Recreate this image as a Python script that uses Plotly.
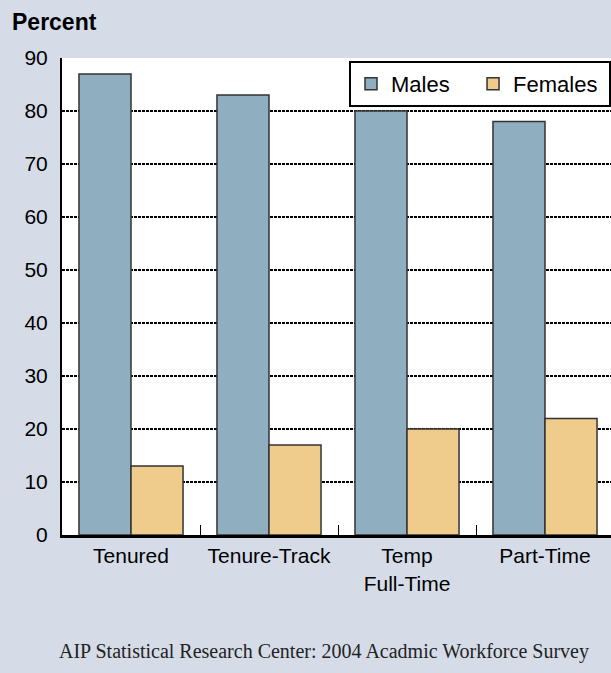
import plotly.graph_objects as go

categories = ["Tenured", "Tenure-Track", "Temp<br>Full-Time", "Part-Time"]
males = [87, 83, 80, 78]
females = [13, 17, 20, 22]
y_ticks = [0, 10, 20, 30, 40, 50, 60, 70, 80, 90]
series_names = ["Males\u00a0\u00a0\u00a0", "Females\u00a0"]

xpos = list(range(len(categories)))

# plot area in pixels
L, R, T, B = 62, 611, 58, 535
W, H = R - L, B - T


def px_x(px):
    return (px - L) / W


def px_y(py):
    return (B - py) / H


fig = go.Figure()
fig.add_trace(go.Bar(x=xpos, y=males, name=series_names[0],
                     marker=dict(color="#8faebf", line=dict(color="#333333", width=1.5))))
fig.add_trace(go.Bar(x=xpos, y=females, name=series_names[1],
                     marker=dict(color="#efcb8c", line=dict(color="#333333", width=1.5))))

fig.update_layout(
    width=611, height=673,
    paper_bgcolor="#d5dce8", plot_bgcolor="white",
    margin=dict(l=L, r=0, t=T, b=673 - B, pad=0, autoexpand=False),
    barmode="group", bargap=0.246, bargroupgap=0,
    font=dict(family="Liberation Sans, Arial, sans-serif", color="black", size=21),
    legend=dict(orientation="h", x=px_x(349), y=px_y(61), xanchor="left", yanchor="top",
                bgcolor="white", bordercolor="black", borderwidth=2,
                font=dict(size=22), traceorder="normal", itemwidth=30),
    xaxis=dict(range=[-0.5, 3.5 - (614 - R) / 138], tickvals=xpos, ticktext=categories,
               ticks="", showgrid=False, showline=True, linecolor="black", linewidth=3,
               minor=dict(tickvals=[0.5, 1.5, 2.5], ticks="inside", ticklen=10,
                          tickcolor="black", tickwidth=1, showgrid=False),
               zeroline=False, fixedrange=True),
    yaxis=dict(range=[0, 90], tickvals=y_ticks, showgrid=True, gridcolor="black",
               griddash="3px,1px", gridwidth=1.5, showline=True, linecolor="black",
               linewidth=2, ticks="", ticklen=0, zeroline=False, fixedrange=True,
               ticklabelstandoff=8),
)
fig.add_annotation(text="<b>Percent</b>", xref="paper", yref="paper",
                   x=px_x(10), y=px_y(22), xanchor="left", yanchor="middle",
                   showarrow=False, font=dict(size=23))
fig.add_annotation(text="AIP Statistical Research Center: 2004 Acadmic Workforce Survey",
                   xref="paper", yref="paper", x=px_x(57), y=px_y(651),
                   xanchor="left", yanchor="middle", showarrow=False,
                   font=dict(family="Liberation Serif, Times New Roman, serif", size=20,
                             color="#222222"))

fig.write_html("out.html", config={"displayModeBar": False},
               post_script="document.body.style.margin='0';document.body.style.overflow='hidden';")
